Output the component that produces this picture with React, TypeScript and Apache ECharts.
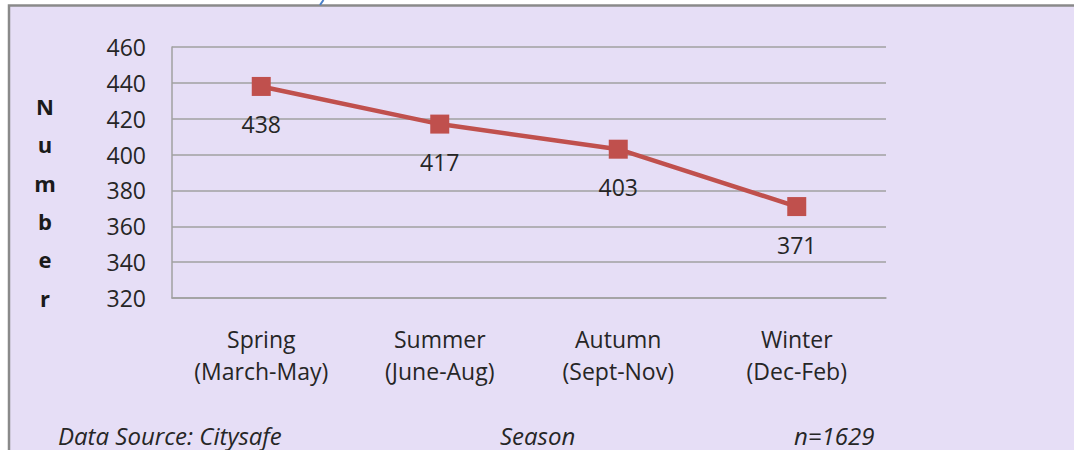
import React, { useEffect, useRef } from "react";
import * as echarts from "echarts";

const categories = ["Spring\n(March-May)", "Summer\n(June-Aug)", "Autumn\n(Sept-Nov)", "Winter\n(Dec-Feb)"];
const values = [438, 417, 403, 371];
const yAxisLetters = ["N", "u", "m", "b", "e", "r"];
const footerLeft = "Data Source: Citysafe";
const footerMid = "Season";
const footerRight = "n=1629";

const FONT = "Open Sans";

export default function App() {
  const ref = useRef<HTMLDivElement>(null);
  useEffect(() => {
    document.body.style.margin = "0";
    const chart = echarts.init(ref.current!, null, { renderer: "svg" });
    const letterGraphics = yAxisLetters.map((ch, i) => ({
      type: "text",
      x: 45,
      y: 106 + i * 38.3,
      style: {
        text: ch,
        font: `bold 22px "${FONT}"`,
        fill: "#1a1a1a",
        align: "center",
        verticalAlign: "middle",
      },
    }));
    const footer = (text: string, x: number) => ({
      type: "text",
      x,
      y: 435,
      style: {
        text,
        font: `italic 24px "${FONT}"`,
        fill: "#262626",
        verticalAlign: "middle",
      },
    });
    chart.setOption({
      animation: false,
      backgroundColor: "#ffffff",
      graphic: [
        {
          type: "rect",
          z: -1,
          silent: true,
          shape: { x: 9, y: 5.5, width: 1080, height: 460 },
          style: { fill: "#e6def6", stroke: "#8a8a8a", lineWidth: 2.5 },
        },
        {
          type: "line",
          shape: { x1: 320, y1: 5, x2: 323.5, y2: 0 },
          style: { stroke: "#4a7fc8", lineWidth: 2 },
        },
        ...letterGraphics,
        footer(footerLeft, 58),
        footer(footerMid, 500),
        footer(footerRight, 794),
      ],
      grid: { left: 172, right: 188, top: 47, bottom: 152 },
      xAxis: {
        type: "category",
        data: categories,
        boundaryGap: true,
        axisLine: { show: true, lineStyle: { color: "#a0a0a0", width: 1.5 } },
        axisTick: { show: false },
        axisLabel: {
          fontFamily: FONT,
          fontSize: 23,
          color: "#262626",
          lineHeight: 32,
          margin: 25,
        },
      },
      yAxis: {
        type: "value",
        min: 320,
        max: 460,
        interval: 20,
        axisLine: { show: true, lineStyle: { color: "#a0a0a0", width: 1.5 } },
        axisTick: { show: false },
        splitLine: { show: true, lineStyle: { color: "#a0a0a0", width: 1.5 } },
        axisLabel: {
          fontFamily: FONT,
          fontSize: 23,
          color: "#262626",
          margin: 26,
        },
      },
      series: [
        {
          type: "line",
          data: values,
          symbol: "rect",
          symbolSize: 19,
          lineStyle: { color: "#c0504d", width: 4.5 },
          itemStyle: { color: "#c0504d" },
          label: {
            show: true,
            position: "bottom",
            distance: 17,
            fontFamily: FONT,
            fontSize: 23,
            color: "#262626",
          },
        },
      ],
    });
    return () => chart.dispose();
  }, []);
  return <div ref={ref} style={{ width: 1074, height: 450 }} />;
}
